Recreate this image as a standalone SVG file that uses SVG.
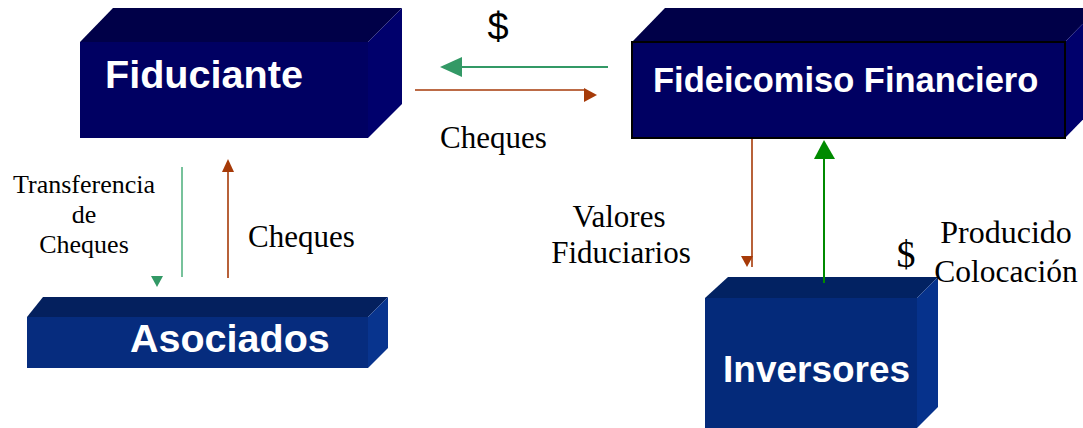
<svg xmlns="http://www.w3.org/2000/svg" width="1083" height="428" viewBox="0 0 1083 428">
<style>
.box{font-family:"Liberation Sans",Arial,sans-serif;font-weight:bold;fill:#ffffff}
.lbl{font-family:"Liberation Serif","Times New Roman",serif;fill:#000000}
.brown{stroke:#a63a08;stroke-width:1.6;fill:none}
.green{stroke:#339966;stroke-width:2;fill:none}
.lgreen{stroke:#4aae7a;stroke-width:1.5;fill:none}
.dgreen{stroke:#008a00;stroke-width:2;fill:none}
</style>
<rect width="1083" height="428" fill="#ffffff"/>
<g id="fiduciante">
<polygon points="80,42 113,8 402,8 368,42" fill="#000048"/>
<polygon points="368,42 402,8 402,104 368,138" fill="#00006c"/>
<rect x="80" y="42" width="288" height="96" fill="#000062"/>
<text class="box" x="105" y="88" font-size="39.6">Fiduciante</text>
</g>
<g id="fideicomiso">
<polygon points="632,42 665,8 1098,8 1065,42" fill="#000048"/>
<polygon points="1065,42 1098,8 1098,104 1065,138" fill="#00006c"/>
<rect x="632" y="42" width="433" height="96" fill="#000062" stroke="#000000" stroke-width="2"/>
<text class="box" x="653" y="92" font-size="34.5">Fideicomiso Financiero</text>
</g>
<g id="asociados">
<polygon points="27,317 43,297 388,297 368,317" fill="#04205e"/>
<polygon points="368,317 388,297 388,348 368,368" fill="#08348e"/>
<rect x="27" y="317" width="341" height="51" fill="#062c7e"/>
<text class="box" x="130" y="352" font-size="39.5">Asociados</text>
</g>
<g id="inversores">
<polygon points="705,298 728,277 938,277 917,298" fill="#022262"/>
<polygon points="917,298 938,277 938,407 917,428" fill="#06328c"/>
<rect x="705" y="298" width="212" height="132" fill="#042a7a"/>
<text class="box" x="723" y="382" font-size="37">Inversores</text>
</g>
<g id="connectors">
<line class="green" x1="608" y1="67" x2="460" y2="67"/>
<polygon points="440,67 462,57 462,77" fill="#339966"/>
<line class="brown" x1="415" y1="90" x2="586" y2="90"/>
<polygon points="584,88 597,95 584,102" fill="#a63a08"/>
<line class="lgreen" x1="182" y1="167" x2="182" y2="277"/>
<polygon points="151,276 163,276 157,287" fill="#339966"/>
<line class="brown" x1="228" y1="278" x2="228" y2="170"/>
<polygon points="228,159 222,172 234,172" fill="#a63a08"/>
<line class="brown" x1="752" y1="139" x2="752" y2="267"/>
<polygon points="741,256 753,256 747,267" fill="#a63a08"/>
<line class="dgreen" x1="824" y1="283" x2="824" y2="157"/>
<polygon points="824,140 814,159 835,159" fill="#008a00"/>
</g>
<g id="labels">
<text x="498" y="40" font-size="38" text-anchor="middle" font-family="Liberation Sans, Arial, sans-serif" fill="#000000">$</text>
<text class="lbl" x="440" y="148" font-size="31">Cheques</text>
<text class="lbl" x="84" y="193" font-size="26" text-anchor="middle">Transferencia</text>
<text class="lbl" x="84" y="223" font-size="26" text-anchor="middle">de</text>
<text class="lbl" x="84" y="253" font-size="26" text-anchor="middle">Cheques</text>
<text class="lbl" x="248" y="247" font-size="31">Cheques</text>
<text class="lbl" x="619" y="227" font-size="31" text-anchor="middle">Valores</text>
<text class="lbl" x="621" y="263" font-size="31" text-anchor="middle">Fiduciarios</text>
<text class="lbl" x="906" y="267" font-size="38" text-anchor="middle">$</text>
<text class="lbl" x="1006" y="243" font-size="32" text-anchor="middle">Producido</text>
<text class="lbl" x="1006" y="282" font-size="31.5" text-anchor="middle">Colocación</text>
</g>
</svg>
